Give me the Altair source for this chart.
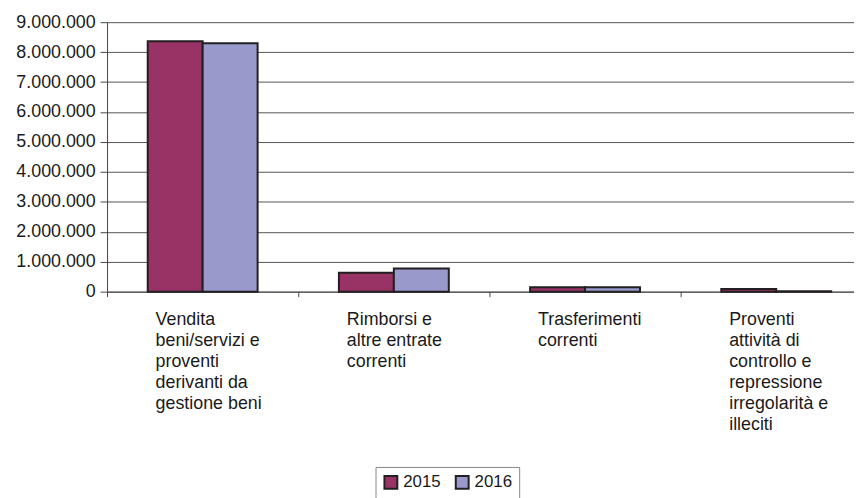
import altair as alt
import pandas as pd

# ---- data ----
categories = [
    "Vendita|beni/servizi e|proventi|derivanti da|gestione beni",
    "Rimborsi e|altre entrate|correnti",
    "Trasferimenti|correnti",
    "Proventi|attività di|controllo e|repressione|irregolarità e|illeciti",
]
years = ["2015", "2016"]
values_2015 = [8360000, 630000, 150000, 90000]
values_2016 = [8300000, 770000, 150000, 15000]
colors = ["#993366", "#9999CC"]
y_ticks = [0, 1000000, 2000000, 3000000, 4000000, 5000000,
           6000000, 7000000, 8000000, 9000000]

rows = []
for c, v in zip(categories, values_2015):
    rows.append({"cat": c, "year": "2015", "value": v})
for c, v in zip(categories, values_2016):
    rows.append({"cat": c, "year": "2016", "value": v})
df = pd.DataFrame(rows)

FONT = "Liberation Sans"

chart = alt.Chart(df).mark_bar(stroke="#231f20", strokeWidth=2).encode(
    x=alt.X(
        "cat:N",
        sort=categories,
        scale=alt.Scale(domain=categories, paddingInner=0, paddingOuter=0),
        axis=alt.Axis(
            title=None, labelAngle=0, labelAlign="left", labelBaseline="top",
            labelOffset=-48, labelPadding=14,
            labelExpr="split(datum.label, '|')", labelLineHeight=21.25,
            tickBand="extent", tickSize=5, tickColor="#444", domainColor="#444",
            labelFont=FONT, labelFontSize=18, labelColor="#1a1a1a", labelLimit=400,
            grid=False,
        ),
    ),
    xOffset=alt.XOffset(
        "year:N", sort=years,
        scale=alt.Scale(domain=years, paddingInner=0, paddingOuter=0.74),
    ),
    y=alt.Y(
        "value:Q",
        scale=alt.Scale(domain=[0, 9000000], nice=False),
        axis=alt.Axis(
            title=None, values=y_ticks,
            labelExpr="replace(format(datum.value, ','), regexp(',', 'g'), '.')",
            grid=True, gridColor="#555555", gridWidth=1,
            domainColor="#444", tickColor="#444", tickSize=7, labelPadding=5,
            labelFont=FONT, labelFontSize=18, labelColor="#1a1a1a",
        ),
    ),
    color=alt.Color(
        "year:N",
        scale=alt.Scale(domain=years, range=colors),
        legend=alt.Legend(
            title=None, orient="none", legendX=271, legendY=449,
            direction="horizontal", symbolType="square", symbolSize=169,
            symbolStrokeColor="#231f20", symbolStrokeWidth=2,
            labelFont=FONT, labelFontSize=17, labelColor="#1a1a1a",
            labelOffset=4, columnPadding=11,
            strokeColor="#888888", padding=7,
        ),
    ),
).properties(
    width=772,
    height=272,
    autosize=alt.AutoSizeParams(type="none"),
    padding={"left": 100, "top": 12, "right": -18, "bottom": 206},
).configure_view(
    stroke=None
)

chart.save("out.html", embed_options={"renderer": "svg", "actions": False})
